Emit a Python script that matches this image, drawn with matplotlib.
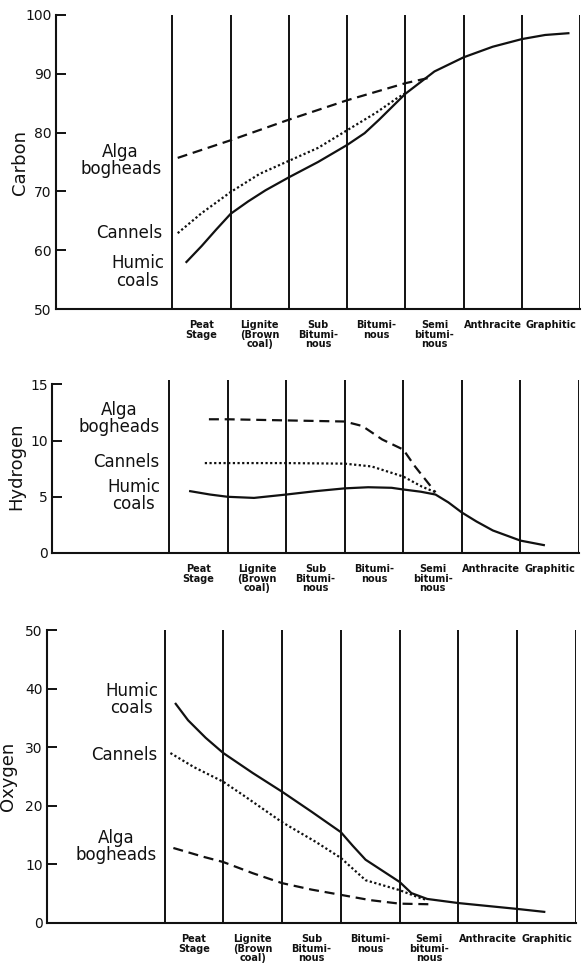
import matplotlib
matplotlib.use("Agg")
import matplotlib.pyplot as plt

# categories between the vertical rank lines
ranks = ["Peat\nStage", "Lignite\n(Brown\ncoal)", "Sub\nBitumi-\nnous", "Bitumi-\nnous",
         "Semi\nbitumi-\nnous", "Anthracite", "Graphitic"]
rank_lines = [0, 1, 2, 3, 4, 5, 6, 7]

# Carbon (%)
c_humic_x = [0.24, 0.5, 0.75, 1.0, 1.3, 1.6, 2.0, 2.5, 3.0, 3.3, 3.55, 4.0, 4.5, 5.0, 5.5, 6.0, 6.4, 6.8]
c_humic_y = [58.0, 60.7, 63.5, 66.2, 68.3, 70.2, 72.4, 75.0, 77.9, 79.9, 82.2, 86.6, 90.4, 92.8, 94.6, 95.9, 96.6, 96.9]
c_cann_x = [0.09, 0.5, 1.0, 1.5, 2.0, 2.5, 3.0, 3.5, 3.85, 4.0]
c_cann_y = [62.9, 66.3, 69.9, 73.0, 75.2, 77.4, 80.4, 83.4, 85.8, 86.7]
c_alga_x = [0.09, 1.0, 2.0, 3.0, 4.0, 4.4]
c_alga_y = [75.7, 78.7, 82.2, 85.5, 88.4, 89.3]

# Hydrogen (%)
h_humic_x = [0.36, 0.7, 1.0, 1.45, 2.0, 2.5, 3.0, 3.4, 3.8, 4.0, 4.3, 4.55, 4.77, 5.0, 5.25, 5.53, 6.0, 6.4]
h_humic_y = [5.5, 5.2, 5.0, 4.9, 5.2, 5.5, 5.75, 5.85, 5.8, 5.65, 5.45, 5.2, 4.5, 3.6, 2.8, 2.0, 1.1, 0.7]
h_cann_x = [0.61, 1.0, 2.0, 3.0, 3.46, 4.0, 4.32, 4.55]
h_cann_y = [8.0, 8.0, 8.0, 7.95, 7.7, 6.8, 5.9, 5.4]
h_alga_x = [0.68, 1.0, 2.0, 3.0, 3.3, 3.64, 4.0, 4.2, 4.55]
h_alga_y = [11.9, 11.9, 11.8, 11.7, 11.3, 10.1, 9.2, 7.7, 5.4]

# Oxygen (%)
o_humic_x = [0.19, 0.4, 0.7, 1.0, 1.5, 2.0, 2.5, 3.0, 3.2, 3.42, 4.0, 4.2, 4.47, 5.0, 5.5, 6.0, 6.46]
o_humic_y = [37.4, 34.6, 31.6, 29.0, 25.6, 22.4, 19.0, 15.5, 13.2, 10.8, 7.0, 5.1, 4.1, 3.4, 2.9, 2.4, 1.9]
o_cann_x = [0.1, 0.5, 1.0, 1.34, 2.0, 2.58, 3.0, 3.42, 4.0, 4.34, 4.47]
o_cann_y = [29.0, 26.6, 24.1, 21.8, 17.2, 13.8, 11.1, 7.3, 5.6, 4.3, 3.9]
o_alga_x = [0.15, 0.66, 1.0, 1.5, 2.0, 2.5, 3.0, 3.5, 4.0, 4.5]
o_alga_y = [12.8, 11.3, 10.4, 8.5, 6.8, 5.7, 4.8, 3.9, 3.3, 3.2]

ink = "#111111"
fig = plt.figure(figsize=(5.86, 9.73), dpi=100)

panels = [
    # name, rect, ylim, ticks, series, label positions, ylabel x
    ("Carbon", [0.0956, 0.6824, 0.8942, 0.3022], (50, 100), [50, 60, 70, 80, 90, 100],
     [(c_humic_x, c_humic_y), (c_cann_x, c_cann_y), (c_alga_x, c_alga_y)],
     [(-0.6, 56.3), (-0.74, 62.9), (-0.89, 75.2)], -0.052),
    ("Hydrogen", [0.0887, 0.4317, 0.8993, 0.1778], (0, 15.4), [0, 5, 10, 15],
     [(h_humic_x, h_humic_y), (h_cann_x, h_cann_y), (h_alga_x, h_alga_y)],
     [(-0.6, 5.1), (-0.73, 8.1), (-0.85, 12.0)], -0.051),
    ("Oxygen", [0.0802, 0.0514, 0.9027, 0.3011], (0, 50), [0, 10, 20, 30, 40, 50],
     [(o_humic_x, o_humic_y), (o_cann_x, o_cann_y), (o_alga_x, o_alga_y)],
     [(-0.56, 38.2), (-0.68, 28.7), (-0.83, 13.0)], -0.057),
]

names = ["Humic\ncoals", "Cannels", "Alga\nbogheads"]
styles = [dict(linestyle="-"), dict(dashes=(1.0, 1.1)), dict(dashes=(4.5, 2.6))]

for ylabel, rect, ylim, yticks, series, lab_pos, ylx in panels:
    ax = fig.add_axes(rect)
    ax.set_xlim(-2, 7)
    ax.set_ylim(*ylim)
    for s in ["top", "right"]:
        ax.spines[s].set_visible(False)
    for s in ["left", "bottom"]:
        ax.spines[s].set_linewidth(1.5)
        ax.spines[s].set_color(ink)
    ax.spines["left"].set_bounds(yticks[0], yticks[-1])

    for xl in rank_lines:
        ax.axvline(xl, color=ink, lw=1.4)

    for (xs, ys), st in zip(series, styles):
        ax.plot(xs, ys, color=ink, lw=1.6, **st)

    for name, (tx, ty) in zip(names, lab_pos):
        ax.text(tx, ty, name, ha="center", va="center", fontsize=12,
                color=ink, linespacing=0.95)

    ax.set_yticks(yticks)
    ax.tick_params(axis="y", direction="in", length=7, width=1.4, pad=3,
                   labelsize=10, colors=ink)
    ax.set_xticks([i + 0.5 for i in range(len(ranks))])
    ax.set_xticklabels(ranks, fontsize=7, fontweight="bold", linespacing=0.95)
    ax.tick_params(axis="x", length=0, pad=8, colors=ink)

    ax.set_ylabel(ylabel, fontsize=13, color=ink)
    ax.yaxis.set_label_coords(ylx, 0.5)

fig.savefig("out.png", dpi=100, facecolor="white")
